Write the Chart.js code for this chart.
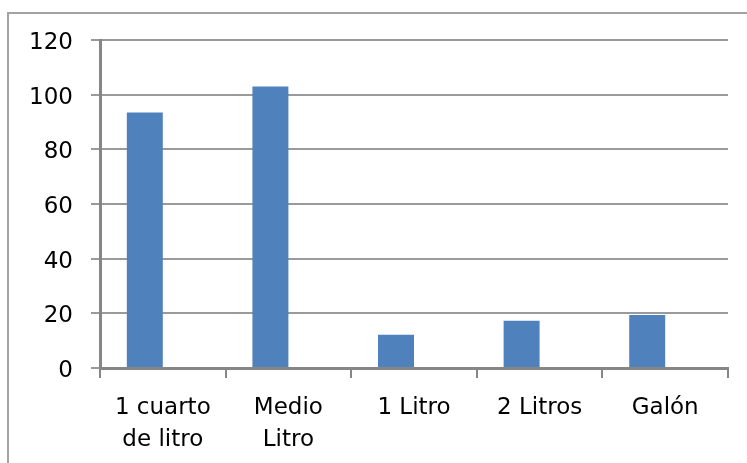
<!DOCTYPE html>
<html>
<head>
<meta charset="utf-8">
<script src="https://cdn.jsdelivr.net/npm/chart.js@4/dist/chart.umd.min.js"></script>
<style>
  html,body{margin:0;padding:0;background:#fff;}
  #frame{position:absolute;left:7px;top:12px;width:760px;height:470px;border:2px solid #a2a2a2;box-sizing:border-box;}
  #wrap{position:absolute;left:0;top:0;width:747px;height:463px;}
</style>
</head>
<body>
<div id="frame"></div>
<div id="wrap"><canvas id="c" width="747" height="463"></canvas></div>
<script>
  // categories and values
  const categories = [['1 cuarto','de litro'], ['Medio','Litro'], '1 Litro', '2 Litros', 'Galón'];
  const serie1 = [93.5, 103, 12.2, 17.3, 19.4];
  const serie2 = [null, null, null, null, null]; // empty second series (keeps bars left of centre)
  const yTicks = [0, 20, 40, 60, 80, 100, 120];

  const AXIS = '#868686';
  const GRID = '#9a9a9a';
  const FONT = {family:'DejaVu Sans', size:23};

  new Chart(document.getElementById('c'), {
    type:'bar',
    data:{
      labels: categories,
      datasets:[
        { label:'Serie 1', data: serie1, backgroundColor:'#4f81bd', borderWidth:0 },
        { label:'Serie 2', data: serie2, backgroundColor:'#c0504d', borderWidth:0 }
      ]
    },
    options:{
      responsive:false,
      animation:false,
      devicePixelRatio:1,
      layout:{ padding:{ top:40, right:19, left:0, bottom:0 } },
      plugins:{ legend:{display:false}, tooltip:{enabled:false} },
      datasets:{ bar:{ categoryPercentage:0.573, barPercentage:1 } },
      scales:{
        x:{
          grid:{ drawOnChartArea:false, drawTicks:true, tickLength:10, color:AXIS, lineWidth:2 },
          border:{ color:AXIS, width:3, z:1 },
          ticks:{ color:'#000', font:{...FONT, lineHeight:1.35}, padding:15, maxRotation:0, autoSkip:false },
          afterFit: s => { s.height = 95; }
        },
        y:{
          min:0, max:120,
          afterBuildTicks: s => { s.ticks = yTicks.map(v => ({value:v})); },
          grid:{ color:GRID, lineWidth:2, tickLength:9 },
          border:{ color:AXIS, width:3, z:1 },
          ticks:{ color:'#000', font:FONT, padding:18, labelOffset:3 },
          afterFit: s => { s.width = 100; }
        }
      }
    }
  });
</script>
</body>
</html>
